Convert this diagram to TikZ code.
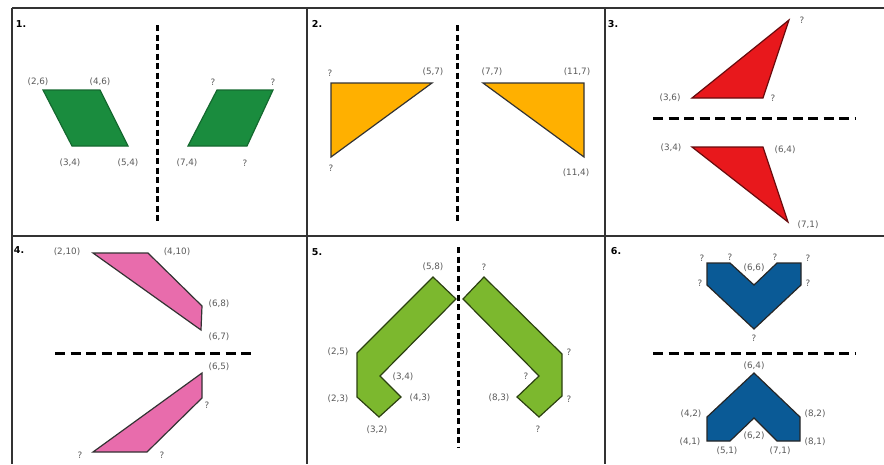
\documentclass[tikz,border=0pt]{standalone}
\usepackage{fontspec}
\setsansfont{DejaVu Sans}
\usepackage{tikz}

\definecolor{paragreen}{RGB}{26,140,62}
\definecolor{triorange}{RGB}{255,176,0}
\definecolor{trired}{RGB}{232,24,28}
\definecolor{quadpink}{RGB}{232,108,172}
\definecolor{chevlime}{RGB}{124,184,46}
\definecolor{chevblue}{RGB}{10,90,150}
\definecolor{labelgray}{RGB}{90,90,90}

\tikzset{
  shp/.style={line width=1.2pt,line join=miter},
  lbl/.style={font=\sffamily\fontsize{8.8}{10}\selectfont,text=labelgray,inner sep=1pt},
  num/.style={font=\sffamily\bfseries\fontsize{9.5}{10}\selectfont,inner sep=0pt},
  vmirror/.style={line width=3pt,dash pattern=on 6pt off 3.5pt},
  hmirror/.style={line width=3pt,dash pattern=on 10pt off 5.5pt},
  gridline/.style={line width=1.8pt,black!80}
}

\begin{document}
\begin{tikzpicture}[x=1pt,y=-1pt]
\useasboundingbox (0,0) rectangle (884,464);
% frame of the six panels
\draw[gridline] (12,8)--(884,8);
\draw[gridline] (12,236)--(884,236);
\foreach \gx in {12,307,605}
  {\draw[gridline] (\gx,8)--(\gx,464);}
\node[num] (n1) at (21,24) {1.};
\node[num] (n2) at (317,24) {2.};
\node[num] (n3) at (613,24) {3.};
\node[num] (n4) at (19,250) {4.};
\node[num] (n5) at (317,252) {5.};
\node[num] (n6) at (616,251) {6.};

% panel 1
\draw[vmirror] (157,25)--(157,223);
\filldraw[shp,fill=paragreen,draw=paragreen!75!black] (43,90)--(100,90)--(128,146)--(72,146)--cycle;
\filldraw[shp,fill=paragreen,draw=paragreen!75!black] (217,90)--(273,90)--(247,146)--(188,146)--cycle;
\node[lbl] (p1a) at (38,82) {(2,6)};
\node[lbl] (p1b) at (100,82) {(4,6)};
\node[lbl] (p1c) at (70,163) {(3,4)};
\node[lbl] (p1d) at (128,163) {(5,4)};
\node[lbl] (p1e) at (213,82) {?};
\node[lbl] (p1f) at (273,82) {?};
\node[lbl] (p1g) at (187,163) {(7,4)};
\node[lbl] (p1h) at (245,163) {?};

% panel 2
\draw[vmirror] (457,25)--(457,223);
\filldraw[shp,fill=triorange,draw=black!80] (331,83)--(432,83)--(331,157)--cycle;
\filldraw[shp,fill=triorange,draw=black!80] (483,83)--(584,83)--(584,157)--cycle;
\node[lbl] (p2a) at (330,73) {?};
\node[lbl] (p2b) at (433,72) {(5,7)};
\node[lbl] (p2c) at (331,168) {?};
\node[lbl] (p2d) at (492,72) {(7,7)};
\node[lbl] (p2e) at (577,72) {(11,7)};
\node[lbl] (p2f) at (576,173) {(11,4)};

% panel 3
\draw[hmirror] (653,118)--(855,118);
\filldraw[shp,fill=trired,draw=trired!45!black] (692,98)--(789,20)--(763,98)--cycle;
\filldraw[shp,fill=trired,draw=trired!45!black] (692,147)--(763,147)--(788,222)--cycle;
\node[lbl] (p3a) at (670,98) {(3,6)};
\node[lbl] (p3b) at (802,20) {?};
\node[lbl] (p3c) at (773,98) {?};
\node[lbl] (p3d) at (671,148) {(3,4)};
\node[lbl] (p3e) at (785,150) {(6,4)};
\node[lbl] (p3f) at (808,225) {(7,1)};

% panel 4
\draw[hmirror] (55,353)--(255,353);
\filldraw[shp,fill=quadpink,draw=black!80] (93,253)--(148,253)--(202,306)--(201,330)--cycle;
\filldraw[shp,fill=quadpink,draw=black!80] (202,373)--(202,398)--(147,452)--(93,452)--cycle;
\node[lbl] (p4a) at (67,252) {(2,10)};
\node[lbl] (p4b) at (177,252) {(4,10)};
\node[lbl] (p4c) at (219,304) {(6,8)};
\node[lbl] (p4d) at (219,337) {(6,7)};
\node[lbl] (p4e) at (219,367) {(6,5)};
\node[lbl] (p4f) at (207,405) {?};
\node[lbl] (p4g) at (80,455) {?};
\node[lbl] (p4h) at (162,455) {?};

% panel 5
\draw[vmirror] (458,247)--(458,447);
\filldraw[shp,fill=chevlime,draw=chevlime!35!black] (433,277)--(456,299)--(380,376)--(401,397)--(379,417)--(357,397)--(357,353)--cycle;
\filldraw[shp,fill=chevlime,draw=chevlime!35!black] (484,277)--(463,299)--(539,376)--(517,397)--(539,417)--(562,396)--(562,354)--cycle;
\node[lbl] (p5a) at (433,267) {(5,8)};
\node[lbl] (p5b) at (338,352) {(2,5)};
\node[lbl] (p5c) at (403,377) {(3,4)};
\node[lbl] (p5d) at (338,399) {(2,3)};
\node[lbl] (p5e) at (420,398) {(4,3)};
\node[lbl] (p5f) at (377,430) {(3,2)};
\node[lbl] (p5g) at (484,267) {?};
\node[lbl] (p5h) at (569,352) {?};
\node[lbl] (p5i) at (526,376) {?};
\node[lbl] (p5j) at (499,398) {(8,3)};
\node[lbl] (p5k) at (569,399) {?};
\node[lbl] (p5l) at (538,429) {?};

% panel 6
\draw[hmirror] (653,353)--(855,353);
\filldraw[shp,fill=chevblue,draw=black!85] (707,263)--(730,263)--(754,285)--(777,263)--(801,263)--(801,285)--(754,329)--(707,285)--cycle;
\filldraw[shp,fill=chevblue,draw=black!85] (754,373)--(800,417)--(800,441)--(777,441)--(754,418)--(730,441)--(707,441)--(707,417)--cycle;
\node[lbl] (p6a) at (702,258) {?};
\node[lbl] (p6b) at (730,257) {?};
\node[lbl] (p6c) at (754,268) {(6,6)};
\node[lbl] (p6d) at (775,257) {?};
\node[lbl] (p6e) at (808,258) {?};
\node[lbl] (p6f) at (700,283) {?};
\node[lbl] (p6g) at (808,283) {?};
\node[lbl] (p6h) at (754,338) {?};
\node[lbl] (p6i) at (754,366) {(6,4)};
\node[lbl] (p6j) at (691,414) {(4,2)};
\node[lbl] (p6k) at (815,414) {(8,2)};
\node[lbl] (p6l) at (690,442) {(4,1)};
\node[lbl] (p6m) at (815,442) {(8,1)};
\node[lbl] (p6n) at (754,436) {(6,2)};
\node[lbl] (p6o) at (727,451) {(5,1)};
\node[lbl] (p6p) at (780,451) {(7,1)};
\end{tikzpicture}
\end{document}
